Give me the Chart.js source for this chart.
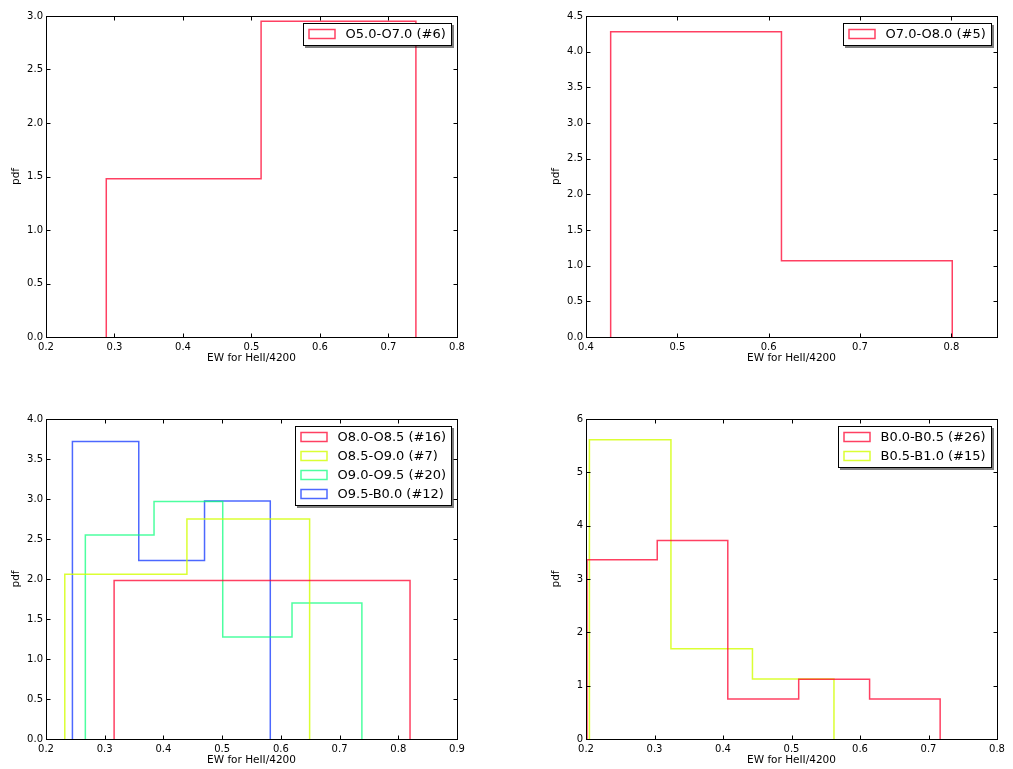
<!DOCTYPE html>
<html>
<head>
<meta charset="utf-8">
<script src="https://cdn.jsdelivr.net/npm/chart.js@4.4.0/dist/chart.umd.min.js"></script>
<style>
html,body{margin:0;padding:0;background:#fff;}
#wrap{position:relative;width:1013px;height:769px;overflow:hidden;}
#wrap canvas{position:absolute;left:0;top:0;}
</style>
</head>
<body>
<div id="wrap">
  <canvas id="c1" width="1013" height="769"></canvas>
  <canvas id="c2" width="1013" height="769"></canvas>
  <canvas id="c3" width="1013" height="769"></canvas>
  <canvas id="c4" width="1013" height="769"></canvas>
</div>
<script>
// --- texte des axes ---
const xLabel = 'EW for HeII/4200';
const yLabel = 'pdf';

// --- histogrammes : bords des bins + valeur pdf de chaque bin ---
const o50o70Edges = [0.288, 0.514, 0.740];
const o50o70Pdf   = [1.48, 2.95];

const o70o80Edges = [0.427, 0.614, 0.801];
const o70o80Pdf   = [4.28, 1.07];

const o80o85Edges = [0.316, 0.820];
const o80o85Pdf   = [1.98];
const o85o90Edges = [0.232, 0.440, 0.649];
const o85o90Pdf   = [2.06, 2.75];
const o90o95Edges = [0.267, 0.384, 0.501, 0.619, 0.738];
const o90o95Pdf   = [2.55, 2.97, 1.275, 1.70];
const o95b00Edges = [0.245, 0.358, 0.470, 0.582];
const o95b00Pdf   = [3.72, 2.23, 2.975];

const b00b05Edges = [0.2015, 0.304, 0.407, 0.5105, 0.614, 0.717];
const b00b05Pdf   = [3.36, 3.72, 0.75, 1.12, 0.75];
const b05b10Edges = [0.205, 0.324, 0.443, 0.562];
const b05b10Pdf   = [5.61, 1.69, 1.125];

// --- graduations ---
const p1XTicks = [0.2, 0.3, 0.4, 0.5, 0.6, 0.7, 0.8];
const p1YTicks = [0, 0.5, 1.0, 1.5, 2.0, 2.5, 3.0];
const p2XTicks = [0.4, 0.5, 0.6, 0.7, 0.8];
const p2YTicks = [0, 0.5, 1.0, 1.5, 2.0, 2.5, 3.0, 3.5, 4.0, 4.5];
const p3XTicks = [0.2, 0.3, 0.4, 0.5, 0.6, 0.7, 0.8, 0.9];
const p3YTicks = [0, 0.5, 1.0, 1.5, 2.0, 2.5, 3.0, 3.5, 4.0];
const p4XTicks = [0.2, 0.3, 0.4, 0.5, 0.6, 0.7, 0.8];
const p4YTicks = [0, 1, 2, 3, 4, 5, 6];

const RED = 'rgba(255,0,45,0.75)';
const YELLOW = 'rgba(210,255,0,0.8)';
const GREEN = 'rgba(0,255,120,0.7)';
const BLUE = 'rgba(0,40,255,0.7)';

const W = 1013, H = 769, YW = 40, XH = 30;
const tickFont = { family: 'DejaVu Sans', size: 10 };
const titleFont = { family: 'DejaVu Sans', size: 10.5 };

// point de départ sur 0, un point par bin (bord droit), retour à 0
function histPoints(edges, pdf) {
  const pts = [{ x: edges[0], y: 0 }];
  pdf.forEach((h, i) => pts.push({ x: edges[i + 1], y: h }));
  pts.push({ x: edges[edges.length - 1], y: 0 });
  return pts;
}

// cadre noir + petites graduations vers l'intérieur sur les 4 côtés
const frame = {
  id: 'frame',
  afterDatasetsDraw(chart) {
    const ctx = chart.ctx, ca = chart.chartArea;
    const xs = chart.scales.x, ys = chart.scales.y;
    const l = Math.round(ca.left) + 0.5, r = Math.round(ca.right) + 0.5;
    const t = Math.round(ca.top) + 0.5, b = Math.round(ca.bottom) + 0.5;
    ctx.save();
    ctx.strokeStyle = '#000';
    ctx.lineWidth = 1;
    ctx.strokeRect(l, t, r - l, b - t);
    ctx.beginPath();
    xs.ticks.forEach(tk => {
      const px = Math.round(xs.getPixelForValue(tk.value)) + 0.5;
      ctx.moveTo(px, b); ctx.lineTo(px, b - 4);
      ctx.moveTo(px, t); ctx.lineTo(px, t + 4);
    });
    ys.ticks.forEach(tk => {
      const py = Math.round(ys.getPixelForValue(tk.value)) + 0.5;
      ctx.moveTo(l, py); ctx.lineTo(l + 4, py);
      ctx.moveTo(r, py); ctx.lineTo(r - 4, py);
    });
    ctx.stroke();
    ctx.restore();
  }
};

// légende dans le coin haut-droit avec ombre
const inLegend = {
  id: 'inLegend',
  afterDraw(chart) {
    const ctx = chart.ctx, ca = chart.chartArea;
    const sets = chart.data.datasets;
    ctx.save();
    ctx.font = '13px "DejaVu Sans"';
    const textW = Math.max(...sets.map(d => ctx.measureText(d.label).width));
    const w = Math.round(5.5 + 26.5 + 10.5 + textW + 5);
    const h = 22 + (sets.length - 1) * 19;
    const x = Math.round(ca.right - 6.5 - w), y = Math.round(ca.top + 6.5);
    ctx.fillStyle = 'rgba(0,0,0,0.5)';
    ctx.fillRect(x + 2, y + 2, w + 1, h + 1);
    ctx.fillStyle = '#fff';
    ctx.fillRect(x, y, w, h);
    ctx.strokeStyle = '#000';
    ctx.lineWidth = 1;
    ctx.strokeRect(x + 0.5, y + 0.5, w, h);
    sets.forEach((d, i) => {
      const cy = y + 11 + i * 19;
      ctx.strokeStyle = d.borderColor;
      ctx.lineWidth = 1.5;
      ctx.strokeRect(x + 6, cy - 4.5, 26, 9);
      ctx.fillStyle = '#000';
      ctx.textBaseline = 'middle';
      ctx.fillText(d.label, x + 42.5, cy + 0.5);
    });
    ctx.restore();
  }
};

function makePanel(id, area, xRange, yRange, xTicks, yTicks, yDec, series) {
  new Chart(document.getElementById(id), {
    type: 'line',
    data: {
      datasets: series.map(s => ({
        label: s.name,
        data: histPoints(s.edges, s.pdf),
        borderColor: s.color,
        borderWidth: 1.5,
        pointRadius: 0,
        stepped: 'after',
        fill: false
      }))
    },
    options: {
      responsive: false,
      animation: false,
      events: [],
      layout: { padding: { left: area[0] - YW, top: area[1], right: W - area[2], bottom: H - area[3] - XH } },
      plugins: { legend: { display: false }, tooltip: { enabled: false } },
      scales: {
        x: {
          type: 'linear', min: xRange[0], max: xRange[1],
          afterBuildTicks: s => { s.ticks = xTicks.map(v => ({ value: v })); },
          afterFit: s => { s.height = XH; },
          grid: { display: false, drawTicks: false },
          border: { display: false },
          ticks: { padding: 4, autoSkip: false, maxRotation: 0, color: '#000', font: tickFont, callback: v => v.toFixed(1) },
          title: { display: true, text: xLabel, color: '#000', font: titleFont, padding: { top: 0, bottom: 2.4 } }
        },
        y: {
          type: 'linear', min: yRange[0], max: yRange[1],
          afterBuildTicks: s => { s.ticks = yTicks.map(v => ({ value: v })); },
          afterFit: s => { s.width = YW; },
          grid: { display: false, drawTicks: false },
          border: { display: false },
          ticks: { padding: 3, autoSkip: false, color: '#000', font: tickFont, callback: v => v.toFixed(yDec) },
          title: { display: true, text: yLabel, color: '#000', font: titleFont, padding: { top: 4.4, bottom: 0 } }
        }
      }
    },
    plugins: [frame, inLegend]
  });
}

makePanel('c1', [46, 16, 457, 337], [0.2, 0.8], [0, 3], p1XTicks, p1YTicks, 1, [
  { name: 'O5.0-O7.0 (#6)', edges: o50o70Edges, pdf: o50o70Pdf, color: RED }
]);
makePanel('c2', [586, 16, 997, 337], [0.4, 0.85], [0, 4.5], p2XTicks, p2YTicks, 1, [
  { name: 'O7.0-O8.0 (#5)', edges: o70o80Edges, pdf: o70o80Pdf, color: RED }
]);
makePanel('c3', [46, 419, 457, 739], [0.2, 0.9], [0, 4], p3XTicks, p3YTicks, 1, [
  { name: 'O8.0-O8.5 (#16)', edges: o80o85Edges, pdf: o80o85Pdf, color: RED },
  { name: 'O8.5-O9.0 (#7)', edges: o85o90Edges, pdf: o85o90Pdf, color: YELLOW },
  { name: 'O9.0-O9.5 (#20)', edges: o90o95Edges, pdf: o90o95Pdf, color: GREEN },
  { name: 'O9.5-B0.0 (#12)', edges: o95b00Edges, pdf: o95b00Pdf, color: BLUE }
]);
makePanel('c4', [586, 419, 997, 739], [0.2, 0.8], [0, 6], p4XTicks, p4YTicks, 0, [
  { name: 'B0.0-B0.5 (#26)', edges: b00b05Edges, pdf: b00b05Pdf, color: RED },
  { name: 'B0.5-B1.0 (#15)', edges: b05b10Edges, pdf: b05b10Pdf, color: YELLOW }
]);
</script>
</body>
</html>
